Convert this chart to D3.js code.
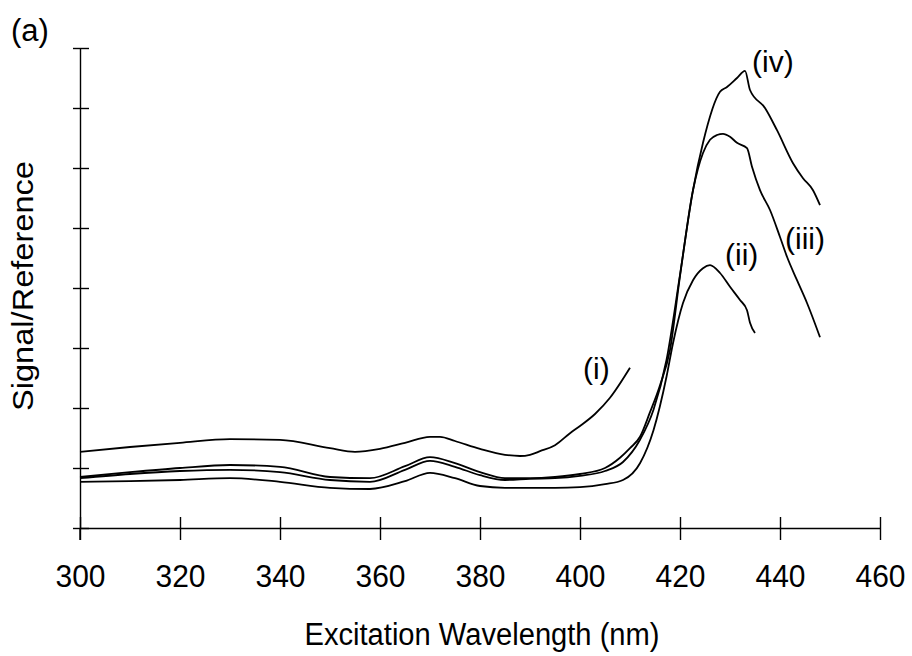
<!DOCTYPE html>
<html>
<head>
<meta charset="utf-8">
<script src="https://cdn.jsdelivr.net/npm/d3@7"></script>
<style>
  html, body { margin: 0; padding: 0; background: #fff; }
  svg { display: block; }
  text { font-family: "Liberation Sans", Arial, Helvetica, sans-serif; fill: #000; }
</style>
</head>
<body>
<svg id="chart" width="912" height="656"></svg>
<script>
// ---- data ----
const xTicks = [300, 320, 340, 360, 380, 400, 420, 440, 460];
const yTicks = [0, 1, 2, 3, 4, 5, 6, 7, 8];

const wlI = [300,310,320,330,340,350,355,360,365,370,372,375,380,385,388,390,392,395,398,400,403,406,410];
const sigI = [1.27,1.35,1.42,1.48,1.47,1.33,1.27,1.32,1.42,1.52,1.52,1.45,1.32,1.22,1.20,1.22,1.28,1.38,1.58,1.70,1.90,2.17,2.67];

const wlII = [300,310,320,330,340,350,358,365,370,375,380,385,390,395,400,405,408.6,412,414.7,417.3,418.6,420.6,422.6,424.6,426,428,430,432,433.4,434,435];
const sigII = [0.77,0.78,0.80,0.83,0.77,0.67,0.65,0.78,0.92,0.83,0.70,0.67,0.67,0.67,0.68,0.73,0.80,1.08,1.63,2.52,3.08,3.75,4.13,4.33,4.38,4.25,4.02,3.80,3.63,3.42,3.25];

const wlIII = [300,310,320,330,340,350,358,365,370,375,380,385,390,395,400,405,408.6,412,414.7,417.3,420,422.6,424.6,426,427.4,428.6,430,431.4,433.4,434.4,436,438,440,441.4,443.4,445.4,448];
const sigIII = [0.83,0.90,0.95,0.97,0.93,0.80,0.77,0.97,1.12,1.02,0.88,0.80,0.82,0.83,0.87,0.95,1.10,1.47,1.97,2.80,4.22,5.63,6.25,6.47,6.55,6.57,6.52,6.42,6.33,6.02,5.63,5.30,4.85,4.52,4.13,3.75,3.18];

const wlIV = [300,310,320,330,340,350,358,365,370,375,380,385,390,395,400,405,408,410,412,414,416,418,420,422.6,424.6,428,429.4,431.4,433,434,437,439.4,442.6,444.6,446.6,448];
const sigIV = [0.85,0.93,1.00,1.05,1.02,0.85,0.83,1.03,1.18,1.08,0.93,0.83,0.83,0.85,0.90,1.00,1.17,1.33,1.52,1.93,2.38,2.97,4.20,5.63,6.42,7.27,7.35,7.50,7.62,7.30,7.00,6.63,6.08,5.83,5.63,5.38];

const seriesNames = ["(i)", "(ii)", "(iii)", "(iv)"];
const seriesX = [wlI, wlII, wlIII, wlIV];
const seriesY = [sigI, sigII, sigIII, sigIV];
// label anchors (wavelength, signal) for the curve annotations
const labelWl = [400.6, 429, 441, 434.4];
const labelSig = [2.48, 4.38, 4.65, 7.6];

const xTitle = "Excitation Wavelength (nm)";
const yTitle = "Signal/Reference";
const panelTag = "(a)";

// ---- drawing ----
const svg = d3.select("#chart");
const x = d3.scaleLinear().domain([300, 460]).range([80, 880]);
const y = d3.scaleLinear().domain([0, 8]).range([528, 48]);

// x axis
const gx = svg.append("g").attr("transform", "translate(0,528)")
  .call(d3.axisBottom(x).tickValues(xTicks).tickSizeInner(12).tickSizeOuter(0).tickFormat(d3.format("d")).tickPadding(25));
gx.select(".domain").attr("stroke", "#000").attr("stroke-width", 1.4);
gx.selectAll(".tick line").attr("y1", -11).attr("y2", 12).attr("stroke", "#000").attr("stroke-width", 1.4);
gx.selectAll(".tick text").attr("font-size", 31).attr("font-family", "Liberation Sans, Arial, sans-serif").attr("fill", "#000")
  .attr("textLength", 50).attr("lengthAdjust", "spacingAndGlyphs");

// y axis
const gy = svg.append("g").attr("transform", "translate(80,0)")
  .call(d3.axisLeft(y).tickValues(yTicks).tickSizeInner(7).tickSizeOuter(0).tickFormat(""));
gy.select(".domain").attr("stroke", "#000").attr("stroke-width", 1.4);
gy.selectAll(".tick line").attr("x1", 9).attr("x2", -7).attr("stroke", "#000").attr("stroke-width", 1.4);
// extension of y axis below the x axis
svg.append("line").attr("x1", x(300)).attr("x2", x(300)).attr("y1", y(0)).attr("y2", y(0) + 12)
  .attr("stroke", "#000").attr("stroke-width", 1.4);

// curves
const line = d3.line().x(d => x(d[0])).y(d => y(d[1])).curve(d3.curveMonotoneX);
seriesX.forEach((xs, i) => {
  const pts = xs.map((v, j) => [v, seriesY[i][j]]);
  svg.append("path").datum(pts).attr("d", line)
    .attr("fill", "none").attr("stroke", "#000").attr("stroke-width", 1.8).attr("stroke-linejoin", "round");
});

// curve labels
seriesNames.forEach((n, i) => {
  svg.append("text").attr("x", x(labelWl[i])).attr("y", y(labelSig[i]))
    .attr("font-size", 30).text(n);
});

// titles
svg.append("text").attr("x", 482).attr("y", 645).attr("text-anchor", "middle")
  .attr("font-size", 31).attr("textLength", 355).attr("lengthAdjust", "spacingAndGlyphs").text(xTitle);
svg.append("text").attr("transform", "translate(33,286) rotate(-90)").attr("text-anchor", "middle")
  .attr("font-size", 30).attr("textLength", 250).attr("lengthAdjust", "spacingAndGlyphs").text(yTitle);
svg.append("text").attr("x", 11).attr("y", 41).attr("font-size", 31).text(panelTag);
</script>
</body>
</html>
